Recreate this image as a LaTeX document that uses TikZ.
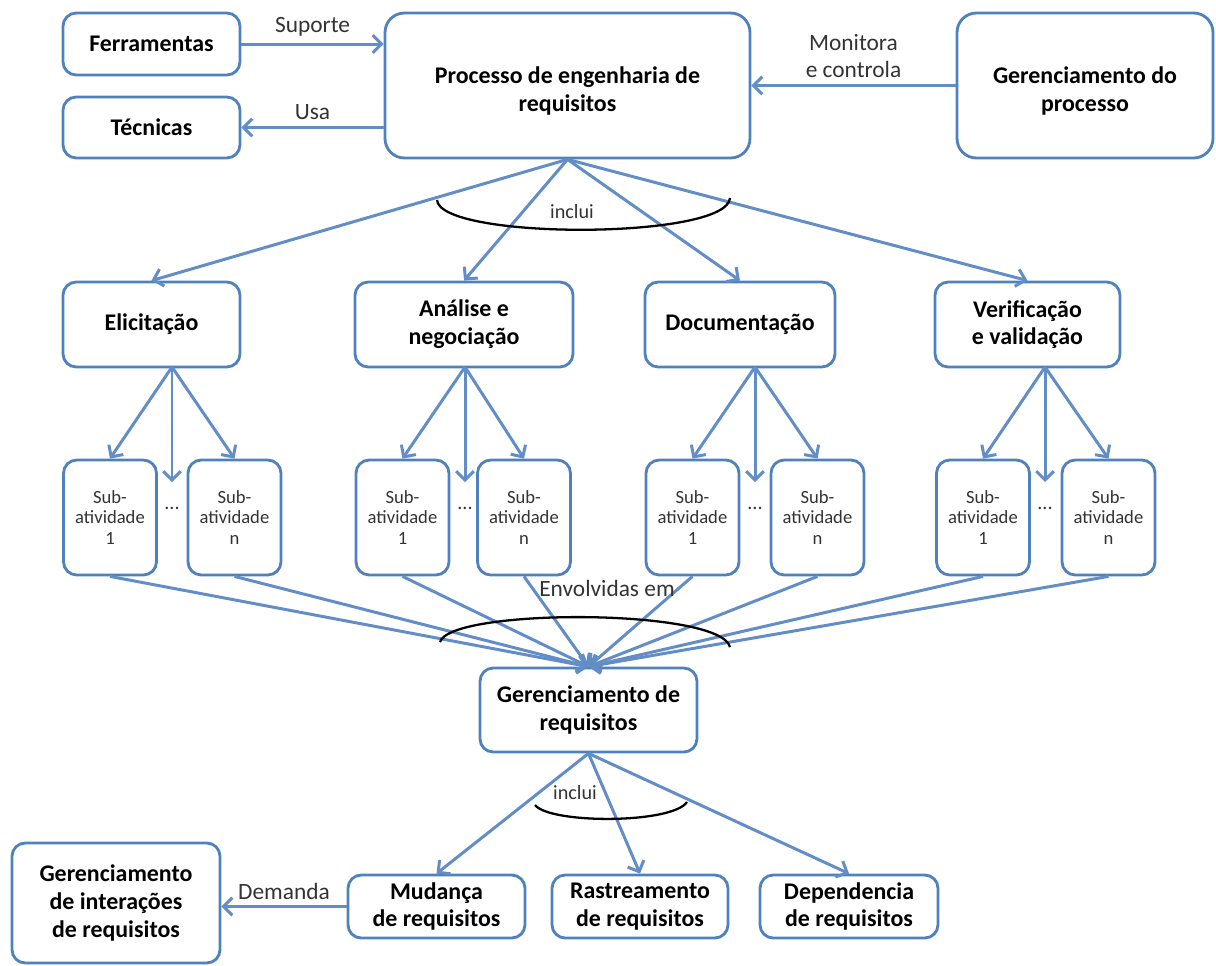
\documentclass[tikz,border=0pt]{standalone}
\usepackage{fontspec}
\setmainfont{Carlito}
\usetikzlibrary{arrows.meta}
\definecolor{boxblue}{HTML}{4F81BD}
\definecolor{lineblue}{HTML}{628DC6}
\begin{document}
\begin{tikzpicture}[x=0.02cm, y=-0.02cm,
  box/.style={draw=boxblue, line width=1.6pt, rounded corners=7.5pt, fill=white, align=center, inner sep=0pt, font=\fontsize{13.6}{15.8}\selectfont\bfseries},
  subbox/.style={box, minimum width=\subw, minimum height=\subh, font=\fontsize{10.6}{11.8}\selectfont, text=black!80},
  arr/.style={draw=lineblue, line width=1.7pt, -{Straight Barb[length=5pt,width=10pt]}},
  lbl/.style={font=\fontsize{13.3}{15.9}\selectfont, text=black!80, align=center},
  inclabel/.style={font=\fontsize{11.5}{13}\selectfont, text=black!80},
  bracearc/.style={draw=black, line width=1.3pt}]
% Set the sub-activity box size
\def\subw{1.86cm} % width of each sub-activity box
\def\subh{2.3cm}
\useasboundingbox (0,0) rectangle (1216,965);

% Top row
\node[box, minimum width=3.54cm, minimum height=1.24cm] (ferr) at (151.5,44) {Ferramentas};
\node[box, minimum width=3.54cm, minimum height=1.22cm] (tec) at (151.5,127.5) {Técnicas};
\node[box, rounded corners=11pt, minimum width=7.3cm, minimum height=2.9cm, text height=32pt] (proc) at (567.5,85.5) {Processo de engenharia de\\requisitos};
\node[box, rounded corners=11pt, minimum width=5.12cm, minimum height=2.9cm, text height=32pt] (gproc) at (1085,85.5) {Gerenciamento do\\processo};
\draw[arr] (ferr.east) -- node[lbl, above] (lsup) {Suporte} (ferr.east -| proc.west);
\draw[arr] (tec.east -| proc.west) -- node[lbl, above] (lusa) {Usa} (tec.east);
\draw[arr] (gproc.west) -- node[lbl, above] (lmon) {Monitora\\e controla} (proc.east);

% Activities
\node[box, minimum width=3.54cm, minimum height=1.7cm] (eli) at (151.5,324.5) {Elicitação};
\node[box, minimum width=4.36cm, minimum height=1.7cm] (ana) at (464,324.5) {Análise e\\negociação};
\node[box, minimum width=3.8cm, minimum height=1.7cm] (doc) at (740,324.5) {Documentação};
\node[box, minimum width=3.7cm, minimum height=1.7cm] (ver) at (1027.5,324.5) {Verificação\\e validação};
\draw[arr] (proc.south) -- (eli.north);
\draw[arr] (proc.south) -- (ana.north);
\draw[arr] (proc.south) -- (doc.north);
\draw[arr] (proc.south) -- (ver.north);
\draw[bracearc] (437,200) .. controls (440,240) and (727,240) .. (730,198);
\node[inclabel] (linc1) at (572,212) {inclui};

% Sub-activities
\coordinate (eliB) at (172,367);
\coordinate (anaB) at (465,367);
\coordinate (docB) at (755,367);
\coordinate (verB) at (1045,367);
\coordinate (eliM) at (172,482);
\coordinate (anaM) at (465,482);
\coordinate (docM) at (755,482);
\coordinate (verM) at (1045,482);
\node[subbox] (e1) at (110,517.5) {Sub-\\atividade\\1};
\node[subbox] (en) at (234.5,517.5) {Sub-\\atividade\\n};
\node[subbox] (a1) at (402.5,517.5) {Sub-\\atividade\\1};
\node[subbox] (an) at (524,517.5) {Sub-\\atividade\\n};
\node[subbox] (d1) at (692.5,517.5) {Sub-\\atividade\\1};
\node[subbox] (dn) at (817.5,517.5) {Sub-\\atividade\\n};
\node[subbox] (v1) at (983,517.5) {Sub-\\atividade\\1};
\node[subbox] (vn) at (1108.5,517.5) {Sub-\\atividade\\n};
\node[inclabel] (dote) at (172,508) {...};
\node[inclabel] (dota) at (465,508) {...};
\node[inclabel] (dotd) at (755,508) {...};
\node[inclabel] (dotv) at (1045,508) {...};
\draw[arr] (eliB) -- (e1.north);
\draw[arr] (eliB) -- (eliM);
\draw[arr] (eliB) -- (en.north);
\draw[arr] (anaB) -- (a1.north);
\draw[arr] (anaB) -- (anaM);
\draw[arr] (anaB) -- (an.north);
\draw[arr] (docB) -- (d1.north);
\draw[arr] (docB) -- (docM);
\draw[arr] (docB) -- (dn.north);
\draw[arr] (verB) -- (v1.north);
\draw[arr] (verB) -- (verM);
\draw[arr] (verB) -- (vn.north);

% Requirements management
\node[box, minimum width=4.34cm, minimum height=1.68cm] (greq) at (588.5,710) {Gerenciamento de\\requisitos};
\draw[arr] (e1.south) -- (greq.north);
\draw[arr] (en.south) -- (greq.north);
\draw[arr] (a1.south) -- (greq.north);
\draw[arr] (an.south) -- (greq.north);
\draw[arr] (d1.south) -- (greq.north);
\draw[arr] (dn.south) -- (greq.north);
\draw[arr] (v1.south) -- (greq.north);
\draw[arr] (vn.south) -- (greq.north);
\draw[bracearc] (440,642) .. controls (450,608) and (720,608) .. (730,647);
\node[lbl] (lenv) at (607,588) {Envolvidas em};

% Bottom row
\node[box, minimum width=3.54cm, minimum height=1.26cm] (mud) at (436.5,906.5) {Mudança\\de requisitos};
\node[box, minimum width=3.52cm, minimum height=1.26cm] (ras) at (640,906.5) {Rastreamento\\de requisitos};
\node[box, minimum width=3.56cm, minimum height=1.26cm] (dep) at (849,906.5) {Dependencia\\de requisitos};
\node[box, minimum width=4.16cm, minimum height=2.4cm] (gint) at (116,903) {Gerenciamento\\de interações\\de requisitos};
\draw[arr] (greq.south) -- (mud.north);
\draw[arr] (greq.south) -- (ras.north);
\draw[arr] (greq.south) -- (dep.north);
\draw[bracearc] (535,805) .. controls (550,824) and (672,824) .. (687,802);
\node[inclabel] (linc2) at (575,793) {inclui};
\draw[arr] (mud.west) -- node[lbl, above] (ldem) {Demanda} (mud.west -| gint.east);
\end{tikzpicture}
\end{document}
